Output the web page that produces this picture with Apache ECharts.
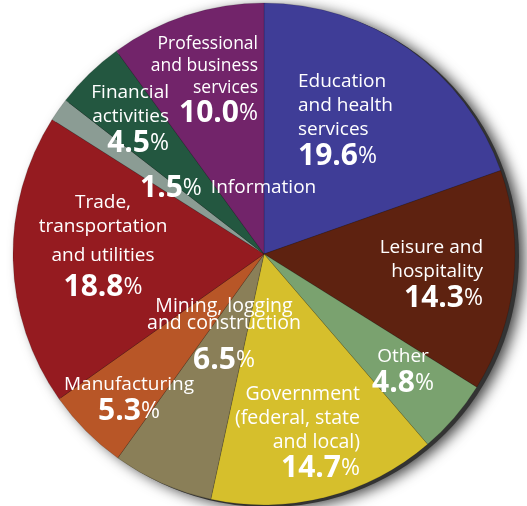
<!DOCTYPE html>
<html><head><meta charset="utf-8">
<script src="https://cdn.jsdelivr.net/npm/echarts@6/dist/echarts.min.js"></script>
<style>html,body{margin:0;padding:0;background:#fff}#c{width:527px;height:506px}</style>
</head><body><div id="c"></div>
<script>
const categories = ["Education and health services","Leisure and hospitality","Other","Government (federal, state and local)","Mining, logging and construction","Manufacturing","Trade, transportation and utilities","Information","Financial activities","Professional and business services"];
const values = [19.6, 14.3, 4.8, 14.7, 6.5, 5.3, 18.8, 1.5, 4.5, 10.0];
const labelLines = [["Education","and health","services"],["Leisure and","hospitality"],["Other"],["Government","(federal, state","and local)"],["Mining, logging","and construction"],["Manufacturing"],["Trade,","transportation","and utilities"],[],["Financial","activities"],["Professional","and business","services"]];
const colors = ["#3f3d97","#5e2210","#7aa26f","#d6bf2c","#8a7f58","#b85627","#951b20","#8b9c94","#235740","#72246a"];

// label layout (anchor x, top y, align) and text sizing
const labelPos = [
  {x:298,y:70,align:'left'},
  {x:483,y:236,align:'right'},
  {x:403,y:345,align:'center'},
  {x:360,y:382,align:'right'},
  {x:224,y:298,align:'center'},
  {x:129,y:373,align:'center'},
  {x:103,y:191,align:'center'},
  {x:140,y:174,align:'left'},
  {x:169,y:81,align:'right'},
  {x:258,y:33,align:'right'}
];
const nameSize = [19, 19, 19, 19.5, 19.5, 19, 19, 19, 19, 17.5];
const FONT = '"Open Sans", "Noto Sans", sans-serif';
function makeRich(al, idx){
  const nameLH = idx===4 ? 17 : (idx===9 ? 22 : 24);
  const numLH = idx===4 ? 56 : 28;
  const fs = nameSize[idx];
  return {
    n:{fontFamily:FONT,fontSize:fs,color:'#fff',lineHeight:nameLH,align:al},
    n2:{fontFamily:FONT,fontSize:fs,color:'#fff',lineHeight:34,align:al},
    b:{fontFamily:FONT,fontSize:30,fontWeight:'bold',color:'#fff',lineHeight:numLH,align:al},
    p:{fontFamily:FONT,fontSize:23,color:'#fff',lineHeight:numLH,align:al},
    i:{fontFamily:FONT,fontSize:fs,color:'#fff',lineHeight:28,align:al,padding:[0,0,0,9]}
  };
}
const data = categories.map((c,i)=>{
  let txt;
  if (i===7) {
    txt = '{b|' + values[i].toFixed(1) + '}{p|%}{i|Information}';
  } else {
    txt = labelLines[i].map((l,k)=>'{'+((i===6&&k===2)?'n2':'n')+'|'+l+'}').join('\n') + '\n{b|' + values[i].toFixed(1) + '}{p|%}';
  }
  return {
    name:c, value:values[i],
    itemStyle:{color:colors[i]},
    label:{formatter:txt, rich:makeRich(labelPos[i].align, i)}
  };
});

const chart = echarts.init(document.getElementById('c'), null, {renderer:'canvas'});
chart.setOption({
  animation:false,
  series:[
    {
      type:'pie', silent:true, z:1,
      center:[268,256], radius:251,
      label:{show:false}, labelLine:{show:false},
      itemStyle:{color:'#333', shadowBlur:14, shadowColor:'rgba(0,0,0,0.75)', shadowOffsetX:5, shadowOffsetY:2},
      data:[{value:1,name:'shadow'}]
    },
    {
      type:'pie', z:2,
      center:[264,254], radius:251,
      startAngle:90, clockwise:true,
      itemStyle:{borderColor:'rgba(0,0,0,0.25)', borderWidth:0.6},
      label:{show:true, position:'inside', color:'#fff'},
      labelLine:{show:false},
      emphasis:{disabled:true},
      labelLayout:function(p){
        const lp = labelPos[p.dataIndex];
        return {x:lp.x, y:lp.y, align:lp.align, verticalAlign:'top', hideOverlap:false};
      },
      data:data
    }
  ]
});
</script></body></html>
